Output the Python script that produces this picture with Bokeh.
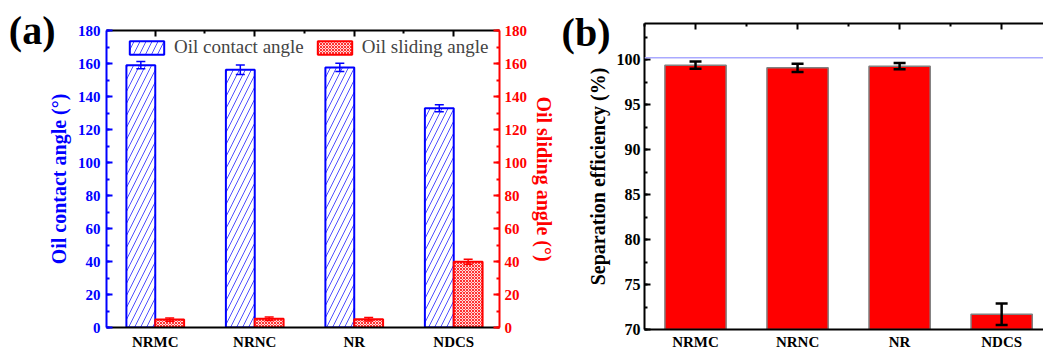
from bokeh.plotting import figure
from bokeh.models import (Range1d, LinearAxis, FixedTicker, Whisker, TeeHead,
                          ColumnDataSource, Legend, LegendItem, Span)
from bokeh.layouts import row
from bokeh.embed import file_html
from bokeh.resources import INLINE

# ---------------- data ----------------
categories = ["NRMC", "NRNC", "NR", "NDCS"]
contact_angle = [159.0, 156.2, 157.6, 132.9]
contact_err = [2.2, 2.9, 2.5, 2.1]
sliding_angle = [4.8, 5.3, 5.0, 39.8]
sliding_err = [1.0, 1.0, 1.0, 1.5]
efficiency = [99.37, 99.07, 99.26, 71.7]
efficiency_err = [0.4, 0.45, 0.35, 1.2]
angle_ticks = [0, 20, 40, 60, 80, 100, 120, 140, 160, 180]
eff_ticks = [70, 75, 80, 85, 90, 95, 100]
panel_titles = ["(a)", "(b)"]

SERIF = "Liberation Serif"
BLUE = "#0000ff"
RED = "#ff0000"

pos = list(range(1, len(categories) + 1))
cat_labels = {p: c for p, c in zip(pos, categories)}
blank_labels = {p: "" for p in pos}
half_pos = [p - 0.5 for p in pos] + [pos[-1] + 0.5]


def style_axis(ax, color, font_size="15px"):
    ax.axis_line_color = color
    ax.axis_line_width = 2
    ax.major_tick_line_color = color
    ax.minor_tick_line_color = color
    ax.major_tick_line_width = 2
    ax.minor_tick_line_width = 2
    ax.major_tick_in = 6
    ax.major_tick_out = 0
    ax.minor_tick_in = 3
    ax.minor_tick_out = 0
    ax.major_label_text_color = color
    ax.major_label_text_font = SERIF
    ax.major_label_text_font_style = "bold"
    ax.major_label_text_font_size = font_size
    ax.axis_label_text_color = color
    ax.axis_label_text_font = SERIF
    ax.axis_label_text_font_style = "bold"
    ax.axis_label_text_font_size = "20px"


def top_axis(fig):
    ax = LinearAxis(ticker=FixedTicker(ticks=pos, minor_ticks=half_pos),
                    major_label_overrides=blank_labels)
    style_axis(ax, "black")
    ax.major_label_text_font_size = "1px"
    ax.major_label_standoff = 0
    ax.axis_label_standoff = 0
    fig.add_layout(ax, "above")


def title_axis(fig, at, text, standoff):
    # panel letter, drawn as the single tick label of an outer, line-less axis
    ax = LinearAxis(ticker=FixedTicker(ticks=[at], minor_ticks=[]),
                    major_label_overrides={at: text})
    ax.axis_line_color = None
    ax.major_tick_line_color = None
    ax.minor_tick_line_color = None
    ax.major_tick_in = 0
    ax.major_tick_out = 0
    ax.major_label_standoff = standoff
    ax.major_label_text_font = SERIF
    ax.major_label_text_font_style = "bold"
    ax.major_label_text_font_size = "40px"
    ax.major_label_text_color = "black"
    fig.add_layout(ax, "left")


def whisker(src, col, width, head):
    return Whisker(base="x", upper="upper", lower="lower", source=src,
                   level="overlay", line_color=col, line_width=width,
                   upper_head=TeeHead(size=head, line_color=col, line_width=width),
                   lower_head=TeeHead(size=head, line_color=col, line_width=width))


# ---------------- panel (a) ----------------
pa = figure(frame_width=393, frame_height=297,
            x_range=Range1d(0.51, 4.46), y_range=Range1d(0, 180),
            min_border_left=106, min_border_right=56,
            min_border_top=30, min_border_bottom=27,
            x_axis_location=None, y_axis_location=None,
            output_backend="svg", toolbar_location=None,
            outline_line_color=None)

src_c = ColumnDataSource(dict(
    x=[p - 0.145 for p in pos], top=contact_angle,
    upper=[v + e for v, e in zip(contact_angle, contact_err)],
    lower=[v - e for v, e in zip(contact_angle, contact_err)]))
src_s = ColumnDataSource(dict(
    x=[p + 0.145 for p in pos], top=sliding_angle,
    upper=[v + e for v, e in zip(sliding_angle, sliding_err)],
    lower=[v - e for v, e in zip(sliding_angle, sliding_err)]))

r_c = pa.vbar(x="x", top="top", width=0.29, bottom=0, source=src_c,
              fill_color="white", line_color=BLUE, line_width=2,
              hatch_pattern="/", hatch_color="#5050ff", hatch_scale=12,
              hatch_weight=1)
r_s = pa.vbar(x="x", top="top", width=0.29, bottom=0, source=src_s,
              fill_color="#ffdada", line_color=RED, line_width=2,
              hatch_pattern="x", hatch_color="#ff3030", hatch_scale=3,
              hatch_weight=1)

pa.add_layout(whisker(src_c, BLUE, 1.5, 9))
pa.add_layout(whisker(src_s, RED, 1.5, 9))

ax_l = LinearAxis(ticker=FixedTicker(ticks=angle_ticks,
                                     minor_ticks=list(range(0, 181, 10))),
                  axis_label="Oil contact angle (°)")
style_axis(ax_l, BLUE)
ax_l.major_label_standoff = 6
ax_l.axis_label_standoff = 5
pa.add_layout(ax_l, "left")

title_axis(pa, 180, panel_titles[0], -11)

ax_r = LinearAxis(ticker=FixedTicker(ticks=angle_ticks,
                                     minor_ticks=list(range(0, 181, 10))),
                  axis_label="Oil sliding angle (°)")
style_axis(ax_r, RED)
ax_r.major_label_standoff = 5
ax_r.axis_label_standoff = 3
pa.add_layout(ax_r, "right")

ax_b = LinearAxis(ticker=FixedTicker(ticks=pos), major_label_overrides=cat_labels)
style_axis(ax_b, "black")
ax_b.major_tick_in = 0
ax_b.minor_tick_in = 0
ax_b.major_label_standoff = 6
pa.add_layout(ax_b, "below")

top_axis(pa)

legend = Legend(items=[LegendItem(label="Oil contact angle", renderers=[r_c]),
                       LegendItem(label="Oil sliding angle", renderers=[r_s])],
                orientation="horizontal", location=(19, 269),
                padding=0, margin=0, spacing=9,
                glyph_width=43, glyph_height=17, label_standoff=6,
                label_text_font=SERIF, label_text_font_size="19px",
                label_height=17,
                background_fill_alpha=0, border_line_color=None)
pa.add_layout(legend)

# ---------------- panel (b) ----------------
pb = figure(frame_width=400, frame_height=306,
            x_range=Range1d(0.5, 4.42), y_range=Range1d(70, 104),
            min_border_left=86, min_border_right=0,
            min_border_top=23, min_border_bottom=25,
            x_axis_location=None, y_axis_location=None,
            output_backend="svg", toolbar_location=None,
            outline_line_color=None)

for f in (pa, pb):
    f.xgrid.visible = False
    f.ygrid.visible = False
    try:
        f.frame_align = False
    except Exception:
        pass

src_e = ColumnDataSource(dict(
    x=pos, top=efficiency,
    upper=[v + e for v, e in zip(efficiency, efficiency_err)],
    lower=[v - e for v, e in zip(efficiency, efficiency_err)]))

pb.add_layout(Span(location=100.2, dimension="width", line_color="#aaaaff",
                   line_width=1.5))
pb.vbar(x="x", top="top", bottom=70, width=0.6, source=src_e,
        fill_color=RED, line_color="#808080", line_width=1.5)
pb.add_layout(whisker(src_e, "black", 2.5, 12))

bx_l = LinearAxis(ticker=FixedTicker(ticks=eff_ticks,
                                     minor_ticks=[70 + 2.5 * i for i in range(14)]),
                  axis_label="Separation efficiency (%)")
style_axis(bx_l, "black", "16px")
bx_l.major_label_standoff = 4
bx_l.axis_label_standoff = 5
pb.add_layout(bx_l, "left")

title_axis(pb, 103, panel_titles[1], -27)

bx_b = LinearAxis(ticker=FixedTicker(ticks=pos), major_label_overrides=cat_labels)
style_axis(bx_b, "black")
bx_b.major_tick_in = 0
bx_b.minor_tick_in = 0
bx_b.major_label_standoff = 4
pb.add_layout(bx_b, "below")

top_axis(pb)

layout = row(pa, pb)
open("out.html", "w").write(file_html(layout, INLINE))
